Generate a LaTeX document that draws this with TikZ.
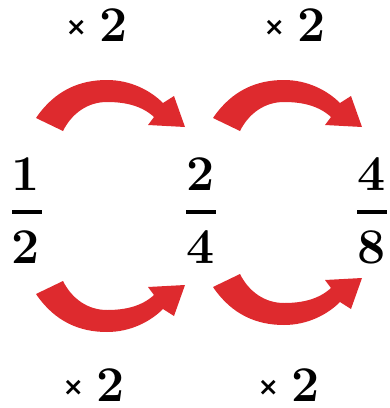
\documentclass[tikz,border=0pt]{standalone}
\usepackage{fontspec}
\usepackage{xcolor}
\usetikzlibrary{positioning}
\newfontfamily\crossfont{DejaVu Sans}
\definecolor{arrowred}{RGB}{222,42,46}
\newcommand{\timestwo}{\raisebox{6pt}{\fontsize{25}{25}\crossfont\bfseries ×}\hspace{13pt}2}
\tikzset{
  digit/.style={inner sep=0pt,font=\fontsize{50}{60}\selectfont\bfseries},
  fracbar/.style={fill=black,minimum width=30pt,minimum height=4pt,inner sep=0pt},
  timeslbl/.style={inner sep=0pt,font=\fontsize{50}{60}\selectfont\bfseries},
  bendarrow/.pic={
    \fill[arrowred] (36,118) .. controls (55,90) and (80,80) .. (107,80)
      .. controls (130,80) and (150,90) .. (163,103) -- (174,96) -- (185,127)
      -- (148,125) -- (154,117) .. controls (142,106) and (126,102) .. (107,102)
      .. controls (88,102) and (72,113) .. (63,131) -- cycle;
  }
}
\begin{document}
\begin{tikzpicture}[x=1pt,y=-1pt]
  \useasboundingbox (0,0) rectangle (390,408);
  \node[digit] (num1) at (26,174) {1};
  \node[fracbar] (bar1) at (27,212) {};
  \node[digit] (den1) at (26,247) {2};
  \node[digit] (num2) at (201,174) {2};
  \node[fracbar] (bar2) at (201,212) {};
  \node[digit] (den2) at (201,247) {4};
  \node[digit] (num3) at (372,174) {4};
  \node[fracbar] (bar3) at (372,212) {};
  \node[digit] (den3) at (372,247) {8};
  \node[timeslbl] (topleft) at (97,25) {\timestwo};
  \node[timeslbl] (topright) at (295,25) {\timestwo};
  \node[timeslbl] (botleft) at (94,385) {\timestwo};
  \node[timeslbl] (botright) at (289,385) {\timestwo};
  \pic at (0,0) {bendarrow};
  \pic at (177,0) {bendarrow};
  \pic[yscale=-1] at (0,412) {bendarrow};
  \pic[yscale=-1] at (177,405) {bendarrow};
\end{tikzpicture}
\end{document}
